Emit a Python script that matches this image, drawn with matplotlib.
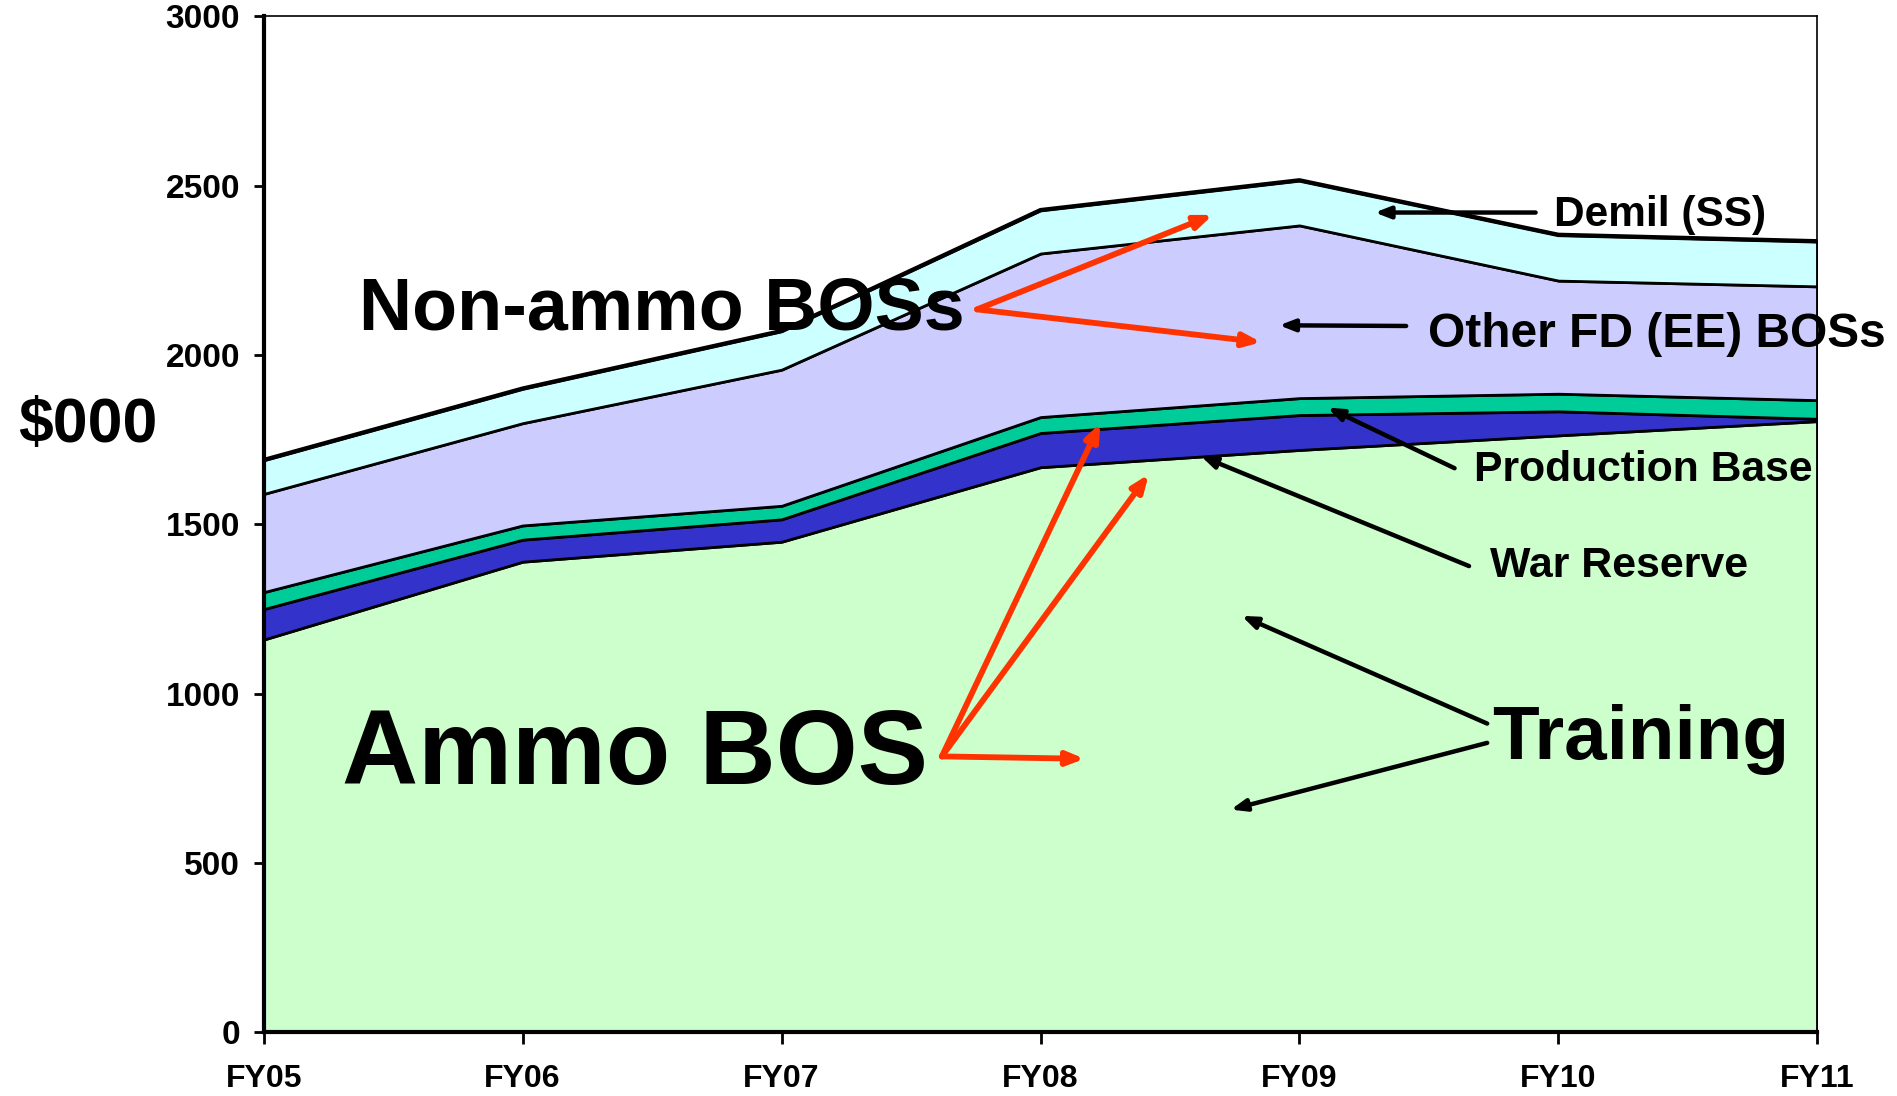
import matplotlib
matplotlib.use("Agg")
import matplotlib.pyplot as plt
import numpy as np

plt.rcParams['font.family'] = ['Liberation Sans', 'DejaVu Sans']

years = ["FY05", "FY06", "FY07", "FY08", "FY09", "FY10", "FY11"]
training = [1160, 1390, 1449, 1669, 1720, 1763, 1805]
war_reserve = [90, 65, 66, 101, 103, 71, 7]
production_base = [50, 42, 40, 47, 50, 52, 55]
other_fd = [290, 302, 402, 483, 510, 334, 336]
demil = [100, 102, 114, 128, 133, 135, 133]

series = [training, war_reserve, production_base, other_fd, demil]
colors = ["#CCFFCC", "#3333CC", "#00CC99", "#CCCCFF", "#CCFFFF"]

fig = plt.figure(figsize=(18.97, 10.96), dpi=100)
ax = fig.add_axes([0.139, 0.058, 0.819, 0.927])

x = np.arange(len(years))
ax.stackplot(x, *series, colors=colors, edgecolor="black", linewidth=2.0)
top = np.sum(np.array(series), axis=0)
ax.plot(x, top, color="black", linewidth=3.2)

ax.set_xlim(0, 6)
ax.set_ylim(0, 3000)
ax.set_xticks(x)
ax.set_xticklabels(years, fontsize=23, fontweight="bold")
ax.set_yticks([0, 500, 1000, 1500, 2000, 2500, 3000])
ax.set_yticklabels(["0", "500", "1000", "1500", "2000", "2500", "3000"],
                   fontsize=24, fontweight="bold")
ax.tick_params(axis="y", direction="out", length=7, width=2, pad=10)
ax.tick_params(axis="x", direction="out", length=8.5, width=2, pad=14)
for s in ["left", "bottom"]:
    ax.spines[s].set_linewidth(3)
for s in ["top", "right"]:
    ax.spines[s].set_linewidth(1.2)

fig.text(88 / 1897, 1 - 426 / 1096, "$000", fontsize=45, fontweight="bold",
         ha="center", va="center")

# labels
ax.text(1.536, 2133, "Non-ammo BOSs", fontsize=53, fontweight="bold",
        ha="center", va="center")
ax.text(1.433, 815, "Ammo BOS", fontsize=76, fontweight="bold",
        ha="center", va="center")
ax.text(5.318, 866, "Training", fontsize=55, fontweight="bold",
        ha="center", va="center")
ax.text(5.393, 2414, "Demil (SS)", fontsize=30.5, fontweight="bold",
        ha="center", va="center")
ax.text(5.379, 2062, "Other FD (EE) BOSs", fontsize=34.5, fontweight="bold",
        ha="center", va="center", clip_on=False)
ax.text(5.327, 1660, "Production Base", fontsize=30.7, fontweight="bold",
        ha="center", va="center")
ax.text(5.234, 1378, "War Reserve", fontsize=30.9, fontweight="bold",
        ha="center", va="center")

black_arrows = [
    ((4.912, 2421), (4.291, 2421)),
    ((4.412, 2086), (3.922, 2088)),
    ((4.599, 1666), (4.109, 1845)),
    ((4.655, 1377), (3.619, 1702)),
    ((4.725, 912), (3.777, 1230)),
    ((4.725, 855), (3.735, 658)),
]
red_arrows = [
    ((2.755, 2135), (3.665, 2414)),
    ((2.755, 2135), (3.852, 2038)),
    ((2.619, 815), (3.231, 1799)),
    ((2.619, 815), (3.418, 1648)),
    ((2.619, 815), (3.170, 808)),
]
for tail, head in black_arrows:
    ax.annotate("", xy=head, xytext=tail,
                arrowprops=dict(arrowstyle="-|>,head_length=0.9,head_width=0.35",
                                color="black", lw=3.2, shrinkA=0, shrinkB=0))
for tail, head in red_arrows:
    ax.annotate("", xy=head, xytext=tail,
                arrowprops=dict(arrowstyle="-|>,head_length=1.0,head_width=0.4",
                                color="#FF3300", lw=4.2, shrinkA=0, shrinkB=0))

fig.savefig("out.png", dpi=100)
